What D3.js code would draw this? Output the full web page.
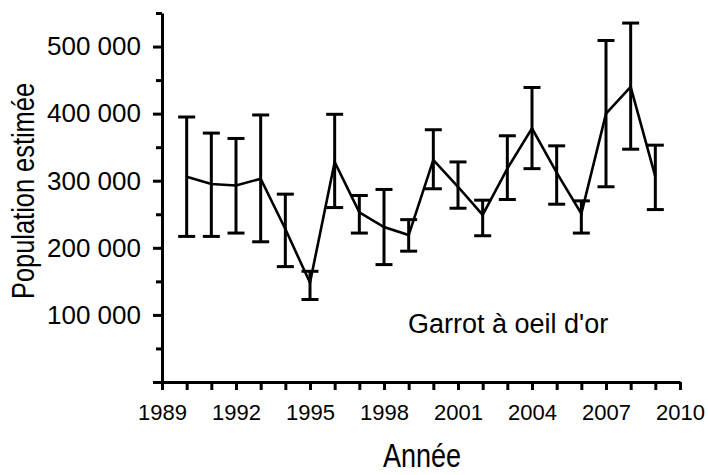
<!DOCTYPE html>
<html>
<head>
<meta charset="utf-8">
<script src="https://cdn.jsdelivr.net/npm/d3@7"></script>
<style>
  html, body { margin: 0; padding: 0; background: #fff; }
  svg { display: block; }
  text { font-family: "Liberation Sans", Arial, sans-serif; fill: #000; }
</style>
</head>
<body>
<svg id="chart" width="708" height="475"></svg>
<script>
// Estimated Common Goldeneye population, with upper and lower interval bounds
const years = [1990, 1991, 1992, 1993, 1994, 1995, 1996, 1997, 1998, 1999,
               2000, 2001, 2002, 2003, 2004, 2005, 2006, 2007, 2008, 2009];
const estimates = [306000, 295000, 293000, 303000, 228000, 148000, 328000, 253000, 231000, 219000,
                   331000, 291000, 249000, 318000, 378000, 312000, 251000, 400000, 440000, 306000];
const upper = [395000, 371000, 363000, 398000, 280000, 165000, 399000, 278000, 287000, 242000,
               376000, 328000, 271000, 367000, 439000, 352000, 270000, 509000, 535000, 353000];
const lower = [217000, 217000, 222000, 209000, 172000, 123000, 260000, 222000, 175000, 195000,
               288000, 259000, 218000, 272000, 318000, 265000, 222000, 291000, 347000, 257000];

const xTicks = d3.range(1989, 2011);            // one tick per year
const xLabels = [1989, 1992, 1995, 1998, 2001, 2004, 2007, 2010];
const yTicks = d3.range(0, 550001, 50000);      // minor every 50 000
const yLabels = [100000, 200000, 300000, 400000, 500000];

const xTitle = "Année";
const yTitle = "Population estimée";
const note = "Garrot à oeil d'or";

const svg = d3.select("#chart");

const x = d3.scaleLinear().domain([1989, 2010]).range([162, 680]);
const y = d3.scaleLinear().domain([0, 550000]).range([382, 13]);

const fr = d3.formatLocale({ decimal: ",", thousands: "\u00a0", grouping: [3], currency: ["", " €"] });
const fmt = fr.format(",d");

// Y axis
const yAxis = svg.append("g")
  .attr("transform", `translate(${x(1989)},0)`)
  .call(d3.axisLeft(y).tickValues(yTicks).tickSize(9).tickSizeOuter(0)
    .tickFormat(d => yLabels.includes(d) ? fmt(d) : ""));
yAxis.select(".domain").attr("stroke", "#000").attr("stroke-width", 3);
yAxis.selectAll(".tick line")
  .attr("stroke", "#000").attr("stroke-width", 3)
  .attr("x2", d => (d % 100000 === 0) ? -9 : -6);
yAxis.selectAll(".tick text")
  .attr("x", -21)
  .style("font-size", "26px")
  .attr("fill", "#000");

// X axis
const xAxis = svg.append("g")
  .attr("transform", `translate(0,${y(0)})`)
  .call(d3.axisBottom(x).tickValues(xTicks).tickSize(8).tickSizeOuter(0)
    .tickFormat(d => xLabels.includes(d) ? String(d) : ""));
xAxis.select(".domain").attr("stroke", "#000").attr("stroke-width", 3);
xAxis.selectAll(".tick line").attr("stroke", "#000").attr("stroke-width", 3);
xAxis.selectAll(".tick text")
  .attr("y", 22)
  .style("font-size", "22px")
  .attr("fill", "#000");

// Error bars
const capHalf = 8.5;
const bars = svg.append("g").attr("stroke", "#000").attr("stroke-width", 3).attr("fill", "none");
years.forEach((yr, i) => {
  const cx = x(yr);
  bars.append("line").attr("x1", cx).attr("x2", cx).attr("y1", y(lower[i])).attr("y2", y(upper[i]));
  bars.append("line").attr("x1", cx - capHalf).attr("x2", cx + capHalf).attr("y1", y(upper[i])).attr("y2", y(upper[i]));
  bars.append("line").attr("x1", cx - capHalf).attr("x2", cx + capHalf).attr("y1", y(lower[i])).attr("y2", y(lower[i]));
});

// Estimate line
const line = d3.line().x((d, i) => x(years[i])).y(d => y(d));
svg.append("path")
  .datum(estimates)
  .attr("d", line)
  .attr("fill", "none")
  .attr("stroke", "#000")
  .attr("stroke-width", 2.6)
  .attr("stroke-linejoin", "miter");

// Axis titles (condensed)
svg.append("text")
  .attr("transform", `translate(422,467) scale(0.82,1)`)
  .attr("text-anchor", "middle")
  .style("font-size", "33px")
  .text(xTitle);

svg.append("text")
  .attr("transform", `translate(34,191) rotate(-90) scale(0.82,1)`)
  .attr("text-anchor", "middle")
  .style("font-size", "31px")
  .text(yTitle);

// Species label
svg.append("text")
  .attr("x", 408)
  .attr("y", 333)
  .style("font-size", "27px")
  .text(note);
</script>
</body>
</html>
